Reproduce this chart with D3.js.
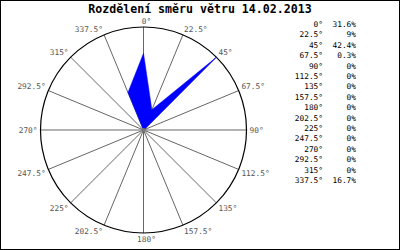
<!DOCTYPE html>
<html>
<head>
<meta charset="utf-8">
<script src="https://cdn.jsdelivr.net/npm/d3@7"></script>
<style>
    body { margin: 0; background: #fff; }
    svg { display: block; }
</style>
</head>
<body>
<svg id="svg" width="400" height="250"></svg>
<script>
    // smery vetru a podily v %
    var directions = [0, 22.5, 45, 67.5, 90, 112.5, 135, 157.5, 180, 202.5, 225, 247.5, 270, 292.5, 315, 337.5];
    var values = [31.6, 9, 42.4, 0.3, 0, 0, 0, 0, 0, 0, 0, 0, 0, 0, 0, 16.7];
    var title = "Rozdělení směru větru 14.02.2013";

    var svg = d3.select("#svg"),
        width = +svg.attr("width"),
        height = +svg.attr("height");
    var cx = 143.5, cy = 130, R = 103;

    svg.append("rect")
        .attr("x", 0.5).attr("y", 0.5)
        .attr("width", width - 1).attr("height", height - 1)
        .attr("fill", "#fff").attr("stroke", "#000");

    svg.append("text")
        .attr("x", 200).attr("y", 13)
        .attr("text-anchor", "middle")
        .style("font-family", "DejaVu Sans Mono")
        .style("font-weight", "bold")
        .style("font-size", "11.6px")
        .text(title);

    var g = svg.append("g").attr("transform", "translate(" + cx + "," + cy + ")");
    var r = d3.scaleLinear().domain([0, d3.max(values)]).range([0, R]);
    var ang = d3.scaleLinear().domain([0, 360]).range([0, 2 * Math.PI]);

    // paprsky
    g.selectAll(".spoke")
        .data(directions)
        .enter().append("line")
        .attr("class", "spoke")
        .attr("x1", 0).attr("y1", 0)
        .attr("x2", function (d) { return R * Math.sin(ang(d)); })
        .attr("y2", function (d) { return -R * Math.cos(ang(d)); })
        .attr("stroke", "#666").attr("stroke-width", 1);

    g.append("circle")
        .attr("r", R)
        .attr("fill", "none").attr("stroke", "#000").attr("stroke-width", 1.2);

    // vetrna ruzice
    var line = d3.lineRadial()
        .angle(function (d, i) { return ang(directions[i]); })
        .radius(function (d) { return r(d); })
        .curve(d3.curveLinearClosed);
    g.append("path")
        .datum(values)
        .attr("d", line)
        .attr("fill", "#0000ff").attr("stroke", "#0000ff").attr("stroke-width", 0.5);

    g.append("circle").attr("r", 2).attr("fill", "#777");

    // popisky smeru
    g.selectAll(".lbl")
        .data(directions)
        .enter().append("text")
        .attr("class", "lbl")
        .attr("x", function (d) {
            var s = Math.sin(ang(d));
            return (R + 3) * s + (Math.abs(s) < 0.01 ? 3 : 0);
        })
        .attr("y", function (d) { return -(R + 3) * Math.cos(ang(d)); })
        .attr("dy", function (d) {
            var c = Math.cos(ang(d));
            if (Math.abs(c) < 0.01) return "0.35em";
            return c > 0 ? "0em" : "0.75em";
        })
        .attr("text-anchor", function (d) {
            var s = Math.sin(ang(d));
            if (Math.abs(s) < 0.01) return "middle";
            return s > 0 ? "start" : "end";
        })
        .style("font-family", "DejaVu Sans Mono")
        .style("font-size", "7.8px")
        .attr("fill", "#555")
        .text(function (d) { return d + "°"; });

    // legenda
    var leg = svg.append("g")
        .style("font-family", "DejaVu Sans Mono")
        .style("font-size", "7.8px");
    var ly = d3.scaleLinear().domain([0, directions.length - 1]).range([27, 183]);
    leg.selectAll(".ld")
        .data(directions)
        .enter().append("text")
        .attr("x", 323)
        .attr("y", function (d, i) { return ly(i); })
        .attr("text-anchor", "end")
        .text(function (d) { return d + "°"; });
    leg.selectAll(".lv")
        .data(values)
        .enter().append("text")
        .attr("x", 356)
        .attr("y", function (d, i) { return ly(i); })
        .attr("text-anchor", "end")
        .text(function (d) { return d + "%"; });
</script>
</body>
</html>
